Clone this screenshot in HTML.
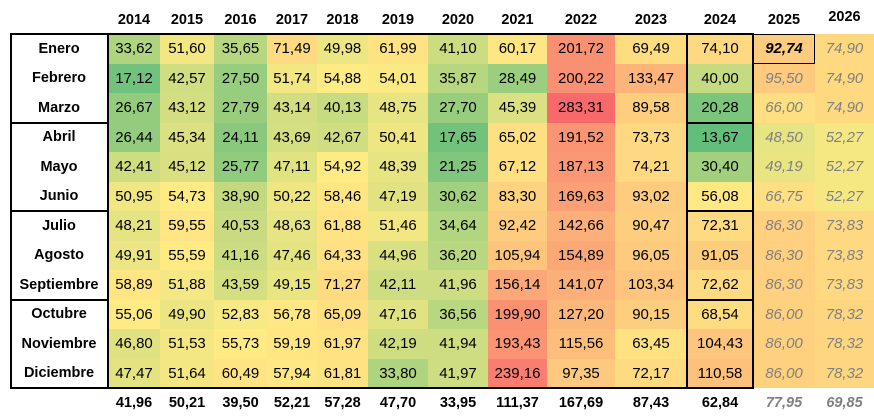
<!DOCTYPE html>
<html><head><meta charset="utf-8"><style>
body{margin:0;width:874px;height:418px;background:#fff;font-family:"Liberation Sans",sans-serif;overflow:hidden;position:relative}
#t{position:absolute;left:0;top:0}
.c{position:absolute;display:flex;align-items:center;justify-content:center;font-size:15px;color:#000;box-sizing:border-box}
.h{font-weight:bold;font-size:14.5px}
.p{color:#808080;font-style:italic}
.b{position:absolute;background:#000}
</style></head><body>
<div id="t"></div>
<script>
const years=["2014","2015","2016","2017","2018","2019","2020","2021","2022","2023","2024","2025","2026"];
const months=["Enero","Febrero","Marzo","Abril","Mayo","Junio","Julio","Agosto","Septiembre","Octubre","Noviembre","Diciembre"];
const v2014=[33.62,17.12,26.67,26.44,42.41,50.95,48.21,49.91,58.89,55.06,46.80,47.47];
const v2015=[51.60,42.57,43.12,45.34,45.12,54.73,59.55,55.59,51.88,49.90,51.53,51.64];
const v2016=[35.65,27.50,27.79,24.11,25.77,38.90,40.53,41.16,43.59,52.83,55.73,60.49];
const v2017=[71.49,51.74,43.14,43.69,47.11,50.22,48.63,47.46,49.15,56.78,59.19,57.94];
const v2018=[49.98,54.88,40.13,42.67,54.92,58.46,61.88,64.33,71.27,65.09,61.97,61.81];
const v2019=[61.99,54.01,48.75,50.41,48.39,47.19,51.46,44.96,42.11,47.16,42.19,33.80];
const v2020=[41.10,35.87,27.70,17.65,21.25,30.62,34.64,36.20,41.96,36.56,41.94,41.97];
const v2021=[60.17,28.49,45.39,65.02,67.12,83.30,92.42,105.94,156.14,199.90,193.43,239.16];
const v2022=[201.72,200.22,283.31,191.52,187.13,169.63,142.66,154.89,141.07,127.20,115.56,97.35];
const v2023=[69.49,133.47,89.58,73.73,74.21,93.02,90.47,96.05,103.34,90.15,63.45,72.17];
const v2024=[74.10,40.00,20.28,13.67,30.40,56.08,72.31,91.05,72.62,68.54,104.43,110.58];
const v2025=[92.74,95.50,66.00,48.50,49.19,66.75,86.30,86.30,86.30,86.00,86.00,86.00];
const v2026=[74.90,74.90,74.90,52.27,52.27,52.27,73.83,73.83,73.83,78.32,78.32,78.32];
const totals=[41.96,50.21,39.50,52.21,57.28,47.70,33.95,111.37,167.69,87.43,62.84,77.95,69.85];
const series=[v2014,v2015,v2016,v2017,v2018,v2019,v2020,v2021,v2022,v2023,v2024,v2025,v2026];
const colX=[108,160,214,267,317,368,428,488,547,615,687,753,815,874];
const top0=34,rh=29.5,labL=10;
const t=document.getElementById('t');
const fmt=v=>v.toFixed(2).replace('.',',');
const all=series.flat();const mn=Math.min(...all),mx=Math.max(...all),mid=55;
function lerp(a,b,f){return a.map((x,i)=>Math.round(x+(b[i]-x)*f));}
function color(v){const g=[99,190,123],y=[255,235,132],r=[248,105,107];
 let c=v<=mid?lerp(g,y,(v-mn)/(mid-mn)):lerp(y,r,Math.min(1,Math.pow((v-mid)/(mx-mid),0.8)));
 return `rgb(${c[0]},${c[1]},${c[2]})`;}
function cell(x,y,w,h,txt,cls,bg){const d=document.createElement('div');d.className='c '+cls;
 d.style.left=x+'px';d.style.top=y+'px';d.style.width=w+'px';d.style.height=h+'px';if(bg)d.style.background=bg;d.textContent=txt;t.appendChild(d);return d;}
years.forEach((yr,i)=>{const d=cell(colX[i],i==12?5:8,colX[i+1]-colX[i],24,yr,'h');
 
 });
months.forEach((m,r)=>{const d=cell(labL,top0+r*rh,colX[0]-labL,rh,m,'h');
 
 });
series.forEach((s,i)=>{s.forEach((v,r)=>{const proj=i>=11&&!(i==11&&r==0);
 const d=cell(colX[i],top0+r*rh,colX[i+1]-colX[i],rh,fmt(v),proj?'p':'',color(v));
 if(i==11&&r==0){d.style.fontWeight='bold';d.style.fontStyle='italic';d.style.border='1.5px solid #000';}
 
 });});
totals.forEach((v,i)=>{const d=cell(colX[i],top0+12*rh+1,colX[i+1]-colX[i],28,fmt(v),'h'+(i>=11?' p':''));
 
 });
function line(x,y,w,h){const b=document.createElement('div');b.className='b';b.style.left=x+'px';b.style.top=y+'px';b.style.width=w+'px';b.style.height=h+'px';
 
 t.appendChild(b);}
const bot=top0+12*rh;
line(labL,top0-1,colX[11]-labL,2);
line(labL,top0-1,2,bot-top0+2);
line(colX[0]-1,top0-1,2,bot-top0+2);
line(colX[10]-1,top0-1,2,bot-top0+2);
line(colX[11]-1,top0-1,2,bot-top0+2);
[3,6,9].forEach(r=>line(labL,top0+r*rh-1,colX[0]-labL,2));
[3,6,9].forEach(r=>line(colX[10],top0+r*rh-1,colX[11]-colX[10],2));
line(labL,bot-1,colX[11]-labL,2);
</script>
</body></html>
